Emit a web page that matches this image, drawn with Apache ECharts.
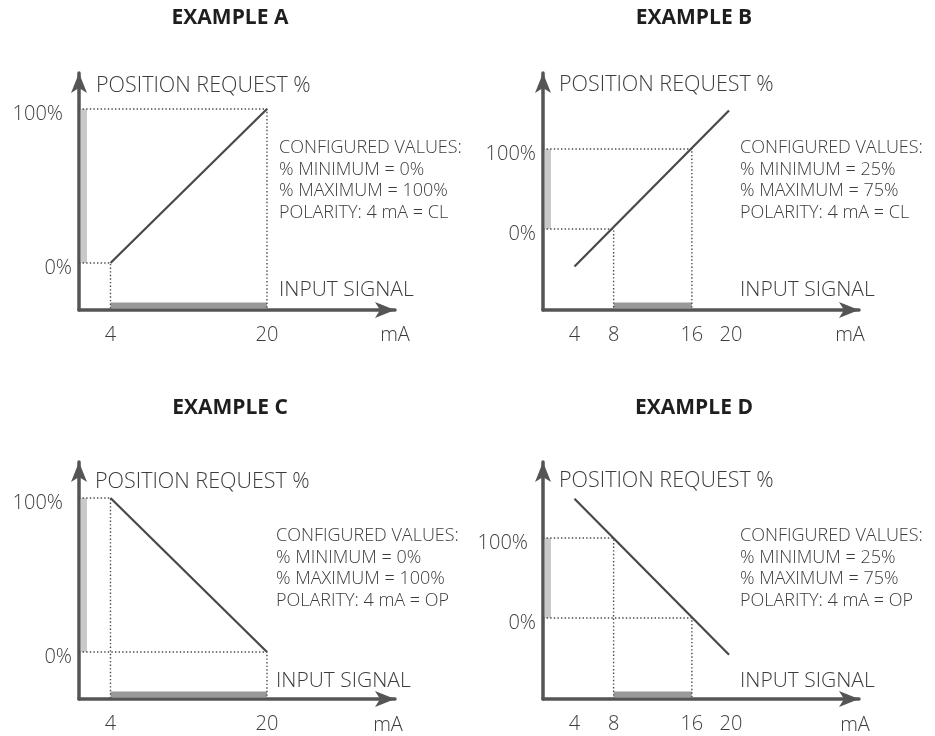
<!DOCTYPE html>
<html>
<head>
<meta charset="utf-8">
<script src="https://cdn.jsdelivr.net/npm/echarts@6/dist/echarts.min.js"></script>
<style>
  html, body { margin: 0; padding: 0; background: #ffffff; }
  #chart { width: 935px; height: 736px; }
</style>
</head>
<body>
<div id="chart"></div>
<script>
// ---------------- data ----------------
const titles = ['EXAMPLE A', 'EXAMPLE B', 'EXAMPLE C', 'EXAMPLE D'];
const minimumPct = [0, 25, 0, 25];
const maximumPct = [100, 75, 100, 75];
const polarity = ['CL', 'CL', 'OP', 'OP'];
const yTickValues = [0, 100];
const xTickValues = [[4, 20], [4, 8, 16, 20], [4, 20], [4, 8, 16, 20]];
// position request line (mA, %)
const requestLineA = [[4, 0], [20, 100]];
const requestLineB = [[4, -47], [19.8, 148]];
const requestLineC = [[4, 100], [20, 0]];
const requestLineD = [[4, 149], [19.8, -46]];
const requestLines = [requestLineA, requestLineB, requestLineC, requestLineD];
// mA at which the request reaches 0 % and 100 %
const mAAtZero = [4, 8, 20, 16];
const mAAtFull = [20, 16, 4, 8];

// ---------------- layout ----------------
const FONT = "'Open Sans', 'DejaVu Sans', sans-serif";
const TXT = '#3c3c3c';
const AXIS = '#555555';
const X_MIN = 0.78, X_MAX = 33.09;
const yRange = [[-30.5, 123.4], [-101.25, 195], [-30.5, 123.4], [-101.25, 195]];
const gridPos = [[79, 73], [543, 73], [79, 462], [543, 462]];
const GRID_W = 316, GRID_H = 237;
const titlePos = [[230, 8], [694, 8], [230, 398], [694, 398]];
const posReqPos = [[96, 86], [559, 85], [95, 482], [559, 481]];
const configPos = [[279, 137], [740, 137], [276, 525], [740, 525]];
const inputPos = [[279, 290.5], [740, 290.5], [276, 681], [740, 681]];
const unitPos = [[395, 335], [850, 335], [388, 725], [855, 725]];
const y100Pad = [9, 0, 9, 8];

const grids = [], xAxes = [], yAxes = [], series = [], graphics = [], titleComps = [];

for (let i = 0; i < 4; i++) {
  const yMin = yRange[i][0], yMax = yRange[i][1];
  grids.push({ left: gridPos[i][0], top: gridPos[i][1], width: GRID_W, height: GRID_H, containLabel: false });
  xAxes.push({
    type: 'value', gridIndex: i, min: X_MIN, max: X_MAX, position: 'bottom',
    axisLine: { onZero: false, symbol: ['none', 'arrow'], symbolSize: [12, 20], lineStyle: { color: AXIS, width: 3.5 } },
    axisTick: { show: false }, splitLine: { show: false },
    axisLabel: { customValues: xTickValues[i], formatter: v => String(v), margin: 15,
      fontSize: 20, fontWeight: 300, fontFamily: FONT, color: TXT }
  });
  yAxes.push({
    type: 'value', gridIndex: i, min: yMin, max: yMax, position: 'left',
    axisLine: { onZero: false, symbol: ['none', 'arrow'], symbolSize: [12, 20], lineStyle: { color: AXIS, width: 3.5 } },
    axisTick: { show: false }, splitLine: { show: false },
    axisLabel: {
      customValues: yTickValues, margin: 7,
      formatter: v => (v === 100 ? '{f|' + v + '%}' : '{z|' + v + '%}'),
      rich: {
        f: { fontSize: 20, fontWeight: 300, fontFamily: FONT, color: TXT, padding: [10, y100Pad[i], 0, 0] },
        z: { fontSize: 20, fontWeight: 300, fontFamily: FONT, color: TXT, padding: [10, 0, 0, 0] }
      }
    }
  });

  // light gray bar on the y axis (0 % .. 100 %)
  series.push({
    type: 'custom', xAxisIndex: i, yAxisIndex: i, silent: true, clip: false, z: 1,
    data: [[0, 100]],
    encode: { x: -1, y: [0, 1] },
    renderItem: (params, api) => {
      const top = api.coord([X_MIN, api.value(1)]);
      const bot = api.coord([X_MIN, api.value(0)]);
      return { type: 'rect', shape: { x: top[0] + 1.7, y: top[1], width: 6.3, height: bot[1] - top[1] },
        style: { fill: '#c9c9c9' } };
    }
  });
  // dark gray bar on the x axis (active signal range)
  const lo = Math.min(mAAtZero[i], mAAtFull[i]), hi = Math.max(mAAtZero[i], mAAtFull[i]);
  series.push({
    type: 'custom', xAxisIndex: i, yAxisIndex: i, silent: true, clip: false, z: 1,
    data: [[lo, hi]],
    encode: { x: [0, 1], y: -1 },
    renderItem: (params, api) => {
      const l = api.coord([api.value(0), yMin]);
      const r = api.coord([api.value(1), yMin]);
      return { type: 'rect', shape: { x: l[0], y: l[1] - 1.75 - 5.8, width: r[0] - l[0], height: 5.8 },
        style: { fill: '#999999' } };
    }
  });
  // dotted guides
  const dotted = { color: '#4a4a4a', width: 1.4, type: [1.4, 2.2] };
  series.push({
    type: 'line', xAxisIndex: i, yAxisIndex: i, silent: true, symbol: 'none', z: 2,
    data: [[X_MIN, 100], [mAAtFull[i], 100], [mAAtFull[i], yMin]],
    lineStyle: dotted
  });
  series.push({
    type: 'line', xAxisIndex: i, yAxisIndex: i, silent: true, symbol: 'none', z: 2,
    data: [[X_MIN, 0], [mAAtZero[i], 0], [mAAtZero[i], yMin]],
    lineStyle: dotted
  });
  // position request line
  series.push({
    type: 'line', xAxisIndex: i, yAxisIndex: i, silent: true, symbol: 'none', z: 3,
    data: requestLines[i],
    lineStyle: { color: '#484848', width: 2.2 }
  });

  titleComps.push({
    text: titles[i], left: titlePos[i][0], top: titlePos[i][1], textAlign: 'center', padding: 0,
    textStyle: { fontSize: 21, fontWeight: 'bold', fontFamily: FONT, color: '#1e1e1e' }
  });

  graphics.push({
    type: 'text', x: posReqPos[i][0], y: posReqPos[i][1],
    style: { text: 'POSITION REQUEST %', fontSize: 21.5, fontWeight: 300, fontFamily: FONT, fill: TXT, align: 'left', verticalAlign: 'middle' }
  });
  graphics.push({
    type: 'text', x: configPos[i][0], y: configPos[i][1],
    style: {
      text: 'CONFIGURED VALUES:\n% MINIMUM = ' + minimumPct[i] + '%\n% MAXIMUM = ' + maximumPct[i] + '%\nPOLARITY: 4 mA = ' + polarity[i],
      fontSize: 18, fontWeight: 300, lineHeight: 21.7, fontFamily: FONT, fill: TXT, align: 'left', verticalAlign: 'top'
    }
  });
  graphics.push({
    type: 'text', x: inputPos[i][0], y: inputPos[i][1],
    style: { text: 'INPUT SIGNAL', fontSize: 21, fontWeight: 300, fontFamily: FONT, fill: TXT, align: 'left', verticalAlign: 'middle' }
  });
  graphics.push({
    type: 'text', x: unitPos[i][0], y: unitPos[i][1],
    style: { text: 'mA', fontSize: 20, fontWeight: 300, fontFamily: FONT, fill: TXT, align: 'center', verticalAlign: 'middle' }
  });
}

const chart = echarts.init(document.getElementById('chart'), null, { renderer: 'canvas' });
chart.setOption({
  backgroundColor: '#ffffff',
  animation: false,
  title: titleComps,
  grid: grids,
  xAxis: xAxes,
  yAxis: yAxes,
  series: series,
  graphic: graphics
});
</script>
</body>
</html>
